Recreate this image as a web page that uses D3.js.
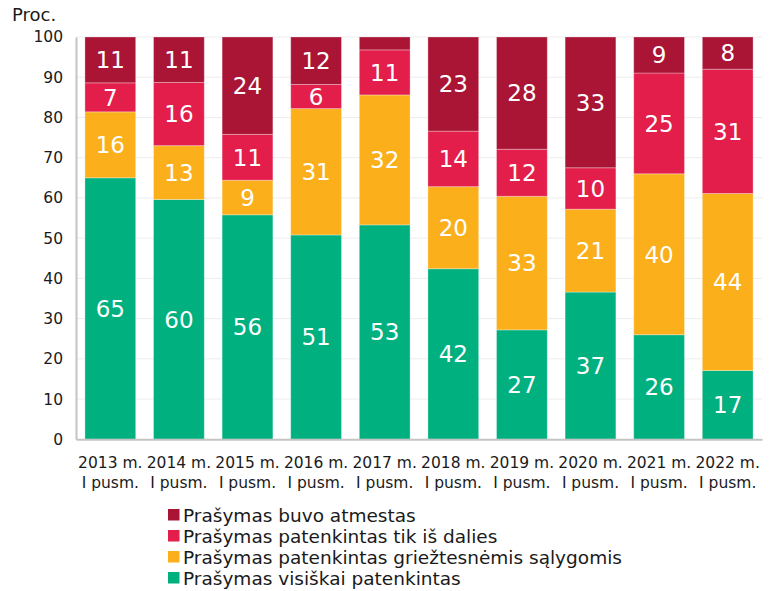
<!DOCTYPE html>
<html>
<head>
<meta charset="utf-8">
<script src="https://cdn.jsdelivr.net/npm/d3@7"></script>
<style>
  html, body { margin: 0; padding: 0; background: #fff; }
  svg { display: block; font-family: "DejaVu Sans", Verdana, sans-serif; }
</style>
</head>
<body>
<svg id="chart" width="776" height="591"></svg>
<script>
// ---- data ----
const categories = ["2013 m.", "2014 m.", "2015 m.", "2016 m.", "2017 m.", "2018 m.", "2019 m.", "2020 m.", "2021 m.", "2022 m."];
const categorySub = "I pusm.";
const seriesNames = [
  "Prašymas visiškai patenkintas",
  "Prašymas patenkintas griežtesnėmis sąlygomis",
  "Prašymas patenkintas tik iš dalies",
  "Prašymas buvo atmestas"
];
const fullyGranted   = [65.0, 59.6, 55.8, 50.8, 53.3, 42.4, 27.2, 36.6, 26.0, 17.1];
const stricterTerms  = [16.4, 13.4, 8.6, 31.4, 32.3, 20.4, 33.2, 20.6, 40.0, 44.0];
const partlyGranted  = [7.2, 15.7, 11.4, 6.0, 11.2, 13.8, 11.7, 10.3, 25.05, 30.9];
const rejected       = [11.4, 11.3, 24.2, 11.8, 3.2, 23.4, 27.9, 32.5, 8.95, 8.0];
const yTicks = [0, 10, 20, 30, 40, 50, 60, 70, 80, 90, 100];
const colors = ["#00B07F", "#FBAF1A", "#E31E4B", "#AA1535"];

// ---- build ----
const series = [fullyGranted, stricterTerms, partlyGranted, rejected];
const rows = categories.map((c, i) => {
  const r = { cat: c };
  seriesNames.forEach((s, k) => r[s] = series[k][i]);
  return r;
});
const stacked = d3.stack().keys(seriesNames)(rows);

const svg = d3.select("#chart");
const plotLeft = 76, plotRight = 762, plotTop = 37, plotBottom = 439.3;
const textColor = "#1a1a1a";

const x = d3.scaleBand().domain(categories).range([plotLeft, plotRight]).paddingInner(0.26).paddingOuter(0.13);
const y = d3.scaleLinear().domain([0, 100]).range([plotBottom, plotTop]);

// gridlines
svg.append("g").selectAll("line").data(yTicks.filter(t => t > 0)).join("line")
  .attr("x1", plotLeft).attr("x2", plotRight)
  .attr("y1", d => y(d)).attr("y2", d => y(d))
  .attr("stroke", "#ededed").attr("stroke-width", 1);

// bars
const layers = svg.append("g").selectAll("g").data(stacked).join("g")
  .attr("fill", (d, i) => colors[i]);
layers.selectAll("rect").data(d => d.map(p => ({ p, cat: p.data.cat }))).join("rect")
  .attr("x", d => x(d.cat))
  .attr("width", x.bandwidth())
  .attr("y", d => y(Math.min(d.p[1], 100)))
  .attr("height", d => y(d.p[0]) - y(Math.min(d.p[1], 100)))
  .attr("stroke", "rgba(255,255,255,0.3)")
  .attr("stroke-width", 1);

// bar labels
const labelG = svg.append("g");
stacked.forEach((layer) => {
  layer.forEach((p) => {
    const v = p[1] - p[0];
    if (v < 5) return;
    labelG.append("text")
      .attr("x", x(p.data.cat) + x.bandwidth() / 2)
      .attr("y", (y(p[0]) + y(Math.min(p[1], 100))) / 2)
      .attr("dy", "0.36em")
      .attr("text-anchor", "middle")
      .attr("fill", "#fff")
      .attr("font-size", 23)
      .text(Math.round(v));
  });
});

// y axis
const yAxis = d3.axisLeft(y).tickValues(yTicks).tickSize(0).tickPadding(13);
const yg = svg.append("g").attr("transform", `translate(${plotLeft},0)`).call(yAxis);
yg.select(".domain").attr("stroke", "#c4c4c4").attr("stroke-width", 2);
yg.selectAll("text").attr("font-size", 15.5).attr("fill", textColor)
  .attr("font-family", "DejaVu Sans, Verdana, sans-serif");

// x axis
const xAxis = d3.axisBottom(x).tickSize(0).tickFormat(() => "");
const xg = svg.append("g").attr("transform", `translate(0,${plotBottom})`).call(xAxis);
xg.select(".domain").attr("stroke", "#c4c4c4").attr("stroke-width", 2);
xg.selectAll(".tick").each(function (d) {
  const t = d3.select(this).append("text")
    .attr("text-anchor", "middle")
    .attr("fill", textColor)
    .attr("font-size", 15.5)
    .attr("font-family", "DejaVu Sans, Verdana, sans-serif");
  t.append("tspan").attr("x", 0).attr("y", 29).text(d);
  t.append("tspan").attr("x", 0).attr("y", 48.5).text(categorySub);
});

// y unit label
svg.append("text").attr("x", 12).attr("y", 21)
  .attr("font-size", 18).attr("fill", textColor).text("Proc.");

// legend (reverse order)
const legendOrder = [3, 2, 1, 0];
const lg = svg.append("g");
legendOrder.forEach((k, i) => {
  const cy = 515 + i * 21;
  lg.append("rect").attr("x", 168).attr("y", cy - 6).attr("width", 11.5).attr("height", 11.5)
    .attr("fill", colors[k]);
  lg.append("text").attr("x", 183).attr("y", cy).attr("dy", "0.36em")
    .attr("font-size", 18.5).attr("fill", textColor).text(seriesNames[k]);
});
</script>
</body>
</html>
